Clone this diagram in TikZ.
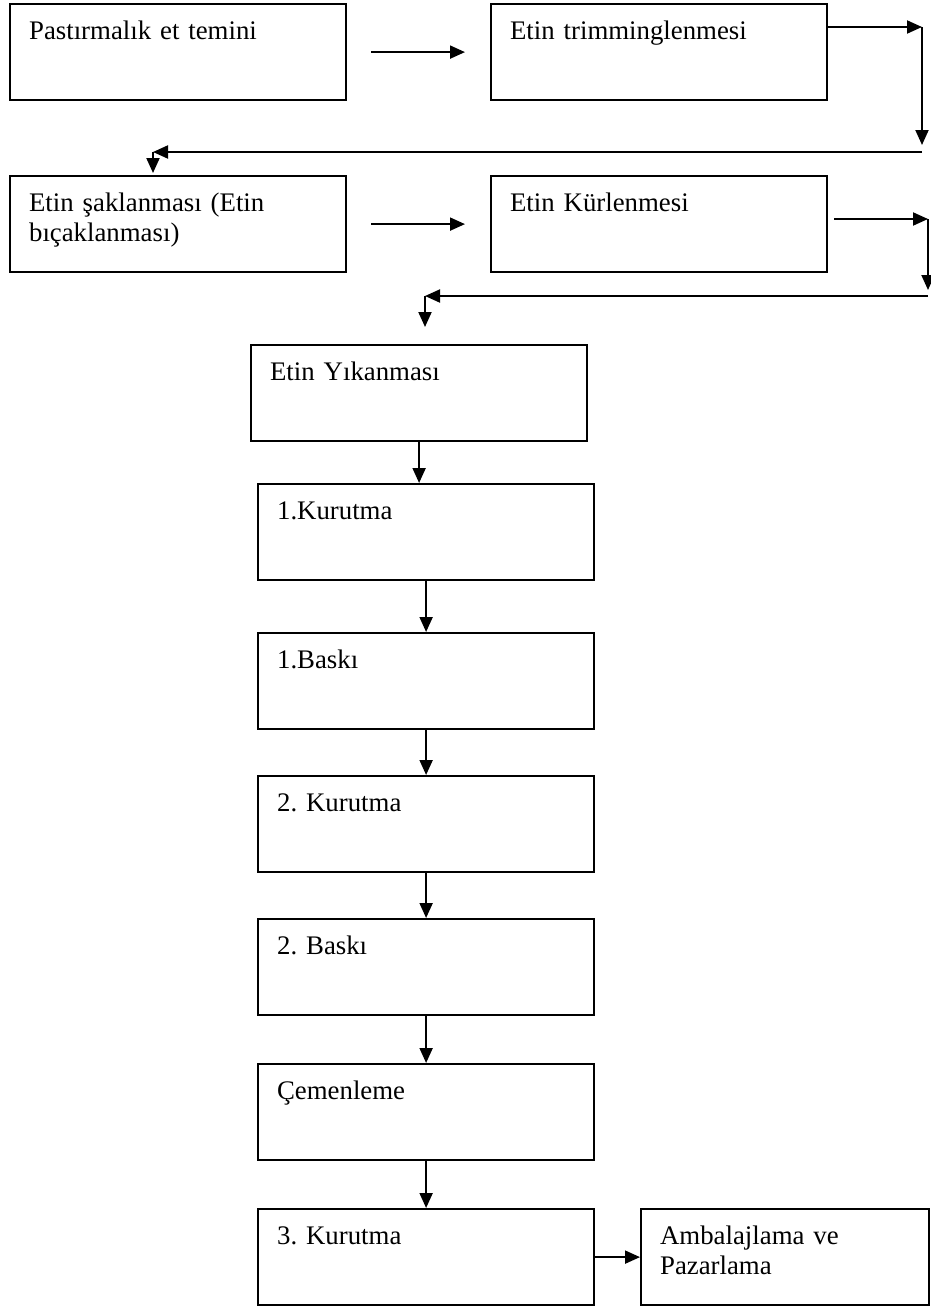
\documentclass[tikz,border=0pt]{standalone}
\usepackage{fontspec}
\setmainfont{Liberation Serif}
\usetikzlibrary{arrows.meta}
\frenchspacing

\begin{document}
\begin{tikzpicture}[x=0.5pt,y=-0.5pt,
  stepbox/.style={draw,line width=1.1pt,anchor=north west,inner xsep=9.5pt,inner ysep=0pt,
    text width=149pt,text height=17.5pt,text depth=30.5pt,align=left,
    font=\fontsize{13.4pt}{15pt}\selectfont},
  arr/.style={line width=1pt,-{Triangle[length=7.5pt,width=6.5pt]}}]

\useasboundingbox (0,0) rectangle (931,1306);

\node[stepbox] (a) at (9,3) {Pastırmalık et temini};
\node[stepbox] (b) at (490,3) {Etin trimminglenmesi};
\node[stepbox] (c) at (9,175) {Etin şaklanması (Etin\\bıçaklanması)};
\node[stepbox] (d) at (490,175) {Etin Kürlenmesi};
\node[stepbox] (e) at (250,344) {Etin Yıkanması};
\node[stepbox] (f) at (257,483) {1.Kurutma};
\node[stepbox] (g) at (257,632) {1.Baskı};
\node[stepbox] (h) at (257,775) {2. Kurutma};
\node[stepbox] (i) at (257,918) {2. Baskı};
\node[stepbox] (j) at (257,1063) {Çemenleme};
\node[stepbox] (k) at (257,1208) {3. Kurutma};
\node[stepbox,text width=125pt] (l) at (640,1208) {Ambalajlama ve\\Pazarlama};

\coordinate (bturn) at (922,27);
\coordinate (bdown) at (922,145);
\coordinate (cline) at (922,152);
\coordinate (cturn) at (153,152);
\coordinate (dturn) at (928,219);
\coordinate (ddown) at (928,290);
\coordinate (eline) at (928,296);
\coordinate (eturn) at (425,296);

\draw[arr] ([xshift=12pt]a.east) -- ([xshift=-12.5pt]b.west);
\draw[arr] ([xshift=12pt]c.east) -- ([xshift=-12.5pt]d.west);

\draw[arr] (b.east |- bturn) -- (bturn);
\draw[arr] (bturn) -- (bdown);
\draw[arr] (cline) -- (cturn);
\draw[arr] (cturn) -- ([yshift=1pt]cturn |- c.north);

\draw[arr] ([xshift=3pt]d.east |- dturn) -- (dturn);
\draw[arr] (dturn) -- (ddown);
\draw[arr] (eline) -- (eturn);
\draw[arr] (eturn) -- ([yshift=8.5pt]eturn |- e.north);

\draw[arr] (e.south) -- (e.south |- f.north);
\foreach \from/\to in {f/g,g/h,h/i,i/j,j/k}
  \draw[arr] (\from.south) -- (\to.north);
\draw[arr] (k.east) -- (l.west);

\end{tikzpicture}
\end{document}
